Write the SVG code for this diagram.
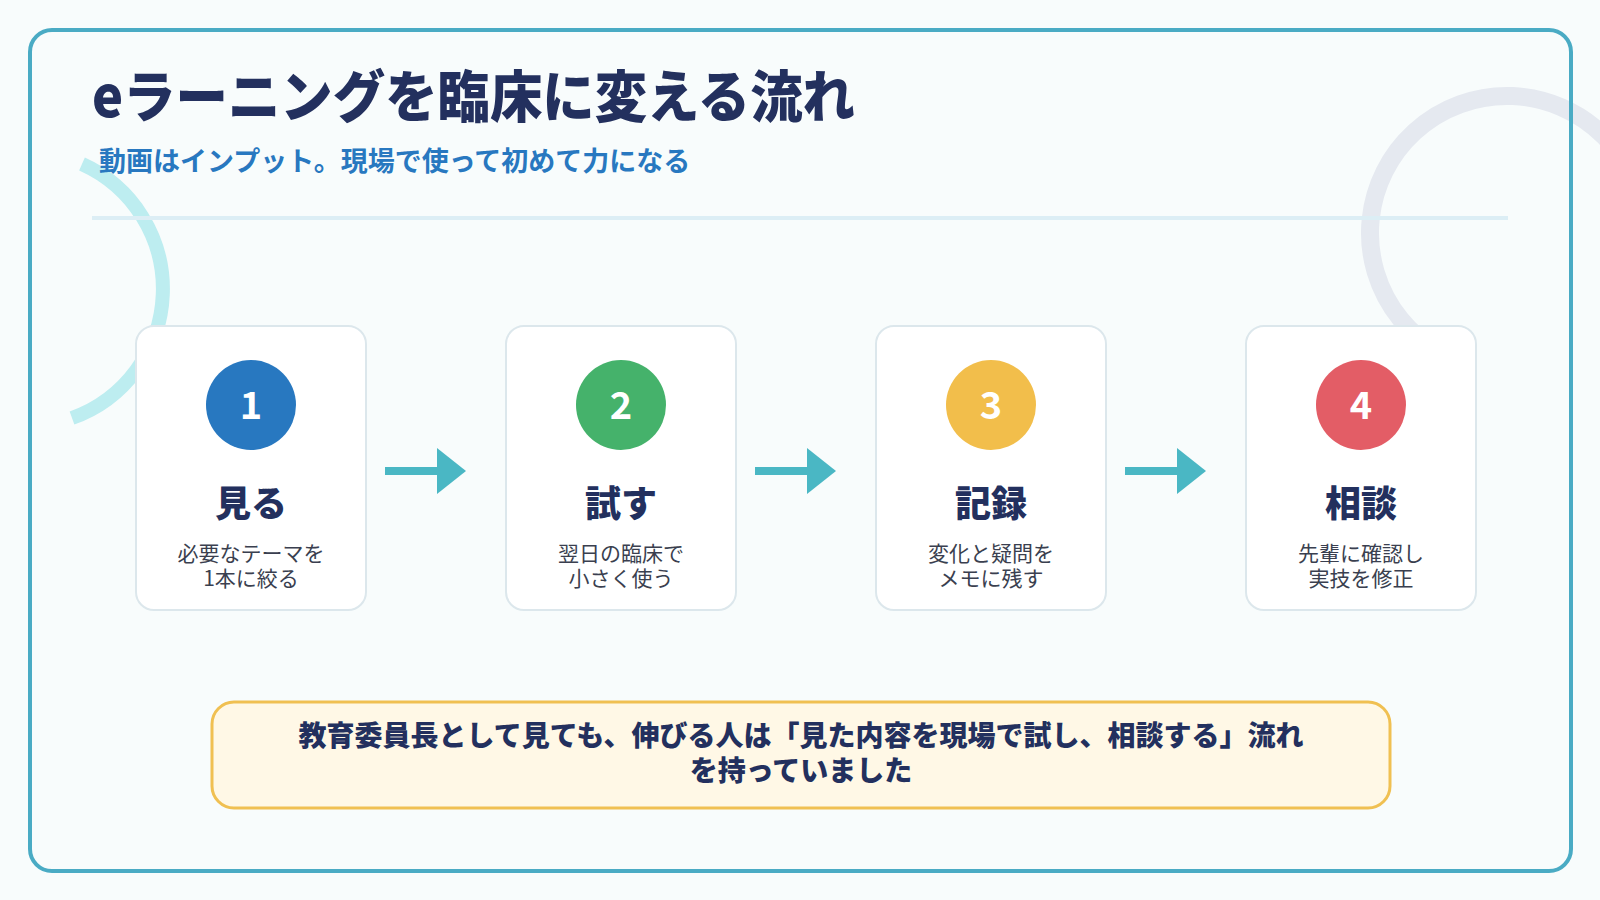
<svg xmlns="http://www.w3.org/2000/svg" width="1600" height="900" viewBox="0 0 1600 900">
  <defs>
    <style>
      .jp { font-family: "Noto Sans CJK JP", "Noto Sans", sans-serif; }
      .card { fill: #FFFFFF; stroke: #DCE7EC; stroke-width: 2; }
      .num { font-family: "Noto Sans CJK JP", "Noto Sans", sans-serif; font-size: 38px; font-weight: 700; fill: #FFFFFF; text-anchor: middle; }
      .ctitle { font-family: "Noto Sans CJK JP", sans-serif; font-size: 36px; font-weight: 900; fill: #23305E; text-anchor: middle; }
      .cdesc { font-family: "Noto Sans CJK JP", sans-serif; font-size: 21px; font-weight: 400; fill: #3A3F4F; text-anchor: middle; }
      .conn { stroke: #4AB7C4; stroke-width: 8; fill: none; }
      .head { fill: #4AB7C4; }
    </style>
  </defs>
  <rect x="0" y="0" width="1600" height="900" fill="#F8FCFC"/>
  <!-- decorations -->
  <path d="M 82 164 A 137 137 0 0 1 72 418" fill="none" stroke="#BDEDF0" stroke-width="14"/>
  <path d="M 1438.5 351.6 A 137 137 0 1 1 1635.7 279.9" fill="none" stroke="#E5E9F0" stroke-width="18"/>
  <!-- frame -->
  <rect x="30" y="30" width="1541" height="841" rx="22" fill="none" stroke="#4AABC4" stroke-width="4"/>
  <!-- header -->
  <text class="jp" x="92" y="117" font-size="56" font-weight="900" fill="#23305E" textLength="763" lengthAdjust="spacingAndGlyphs">eラーニングを臨床に変える流れ</text>
  <text class="jp" x="99" y="171" font-size="27" font-weight="700" fill="#2878C0">動画はインプット。現場で使って初めて力になる</text>
  <line x1="92" y1="218" x2="1508" y2="218" stroke="#DCEEF5" stroke-width="4"/>
  <!-- connectors -->
  <g id="connectors">
    <line class="conn" x1="385" y1="471" x2="440" y2="471"/>
    <polygon class="head" points="437,448 466,471 437,494"/>
    <line class="conn" x1="755" y1="471" x2="810" y2="471"/>
    <polygon class="head" points="807,448 836,471 807,494"/>
    <line class="conn" x1="1125" y1="471" x2="1180" y2="471"/>
    <polygon class="head" points="1177,448 1206,471 1177,494"/>
  </g>
  <!-- nodes -->
  <g id="step1">
    <rect class="card" x="136" y="326" width="230" height="284" rx="18"/>
    <circle cx="251" cy="405" r="45" fill="#2878C0"/>
    <text class="num" x="251" y="419">1</text>
    <text class="ctitle" x="251" y="517">見る</text>
    <text class="cdesc" x="251" y="561">必要なテーマを</text>
    <text class="cdesc" x="251" y="586">1本に絞る</text>
  </g>
  <g id="step2">
    <rect class="card" x="506" y="326" width="230" height="284" rx="18"/>
    <circle cx="621" cy="405" r="45" fill="#45B26B"/>
    <text class="num" x="621" y="419">2</text>
    <text class="ctitle" x="621" y="517">試す</text>
    <text class="cdesc" x="621" y="561">翌日の臨床で</text>
    <text class="cdesc" x="621" y="586">小さく使う</text>
  </g>
  <g id="step3">
    <rect class="card" x="876" y="326" width="230" height="284" rx="18"/>
    <circle cx="991" cy="405" r="45" fill="#F2BE4B"/>
    <text class="num" x="991" y="419">3</text>
    <text class="ctitle" x="991" y="517">記録</text>
    <text class="cdesc" x="991" y="561">変化と疑問を</text>
    <text class="cdesc" x="991" y="586">メモに残す</text>
  </g>
  <g id="step4">
    <rect class="card" x="1246" y="326" width="230" height="284" rx="18"/>
    <circle cx="1361" cy="405" r="45" fill="#E35D66"/>
    <text class="num" x="1361" y="419">4</text>
    <text class="ctitle" x="1361" y="517">相談</text>
    <text class="cdesc" x="1361" y="561">先輩に確認し</text>
    <text class="cdesc" x="1361" y="586">実技を修正</text>
  </g>
  <!-- callout -->
  <g id="callout">
    <rect x="212" y="702" width="1178" height="106" rx="22" fill="#FFF8E6" stroke="#F0C052" stroke-width="3"/>
    <text class="jp" x="801" y="746" font-size="28" font-weight="900" fill="#23305E" text-anchor="middle">教育委員長として見ても、伸びる人は「見た内容を現場で試し、相談する」流れ</text>
    <text class="jp" x="801" y="781" font-size="28" font-weight="900" fill="#23305E" text-anchor="middle">を持っていました</text>
  </g>
</svg>
